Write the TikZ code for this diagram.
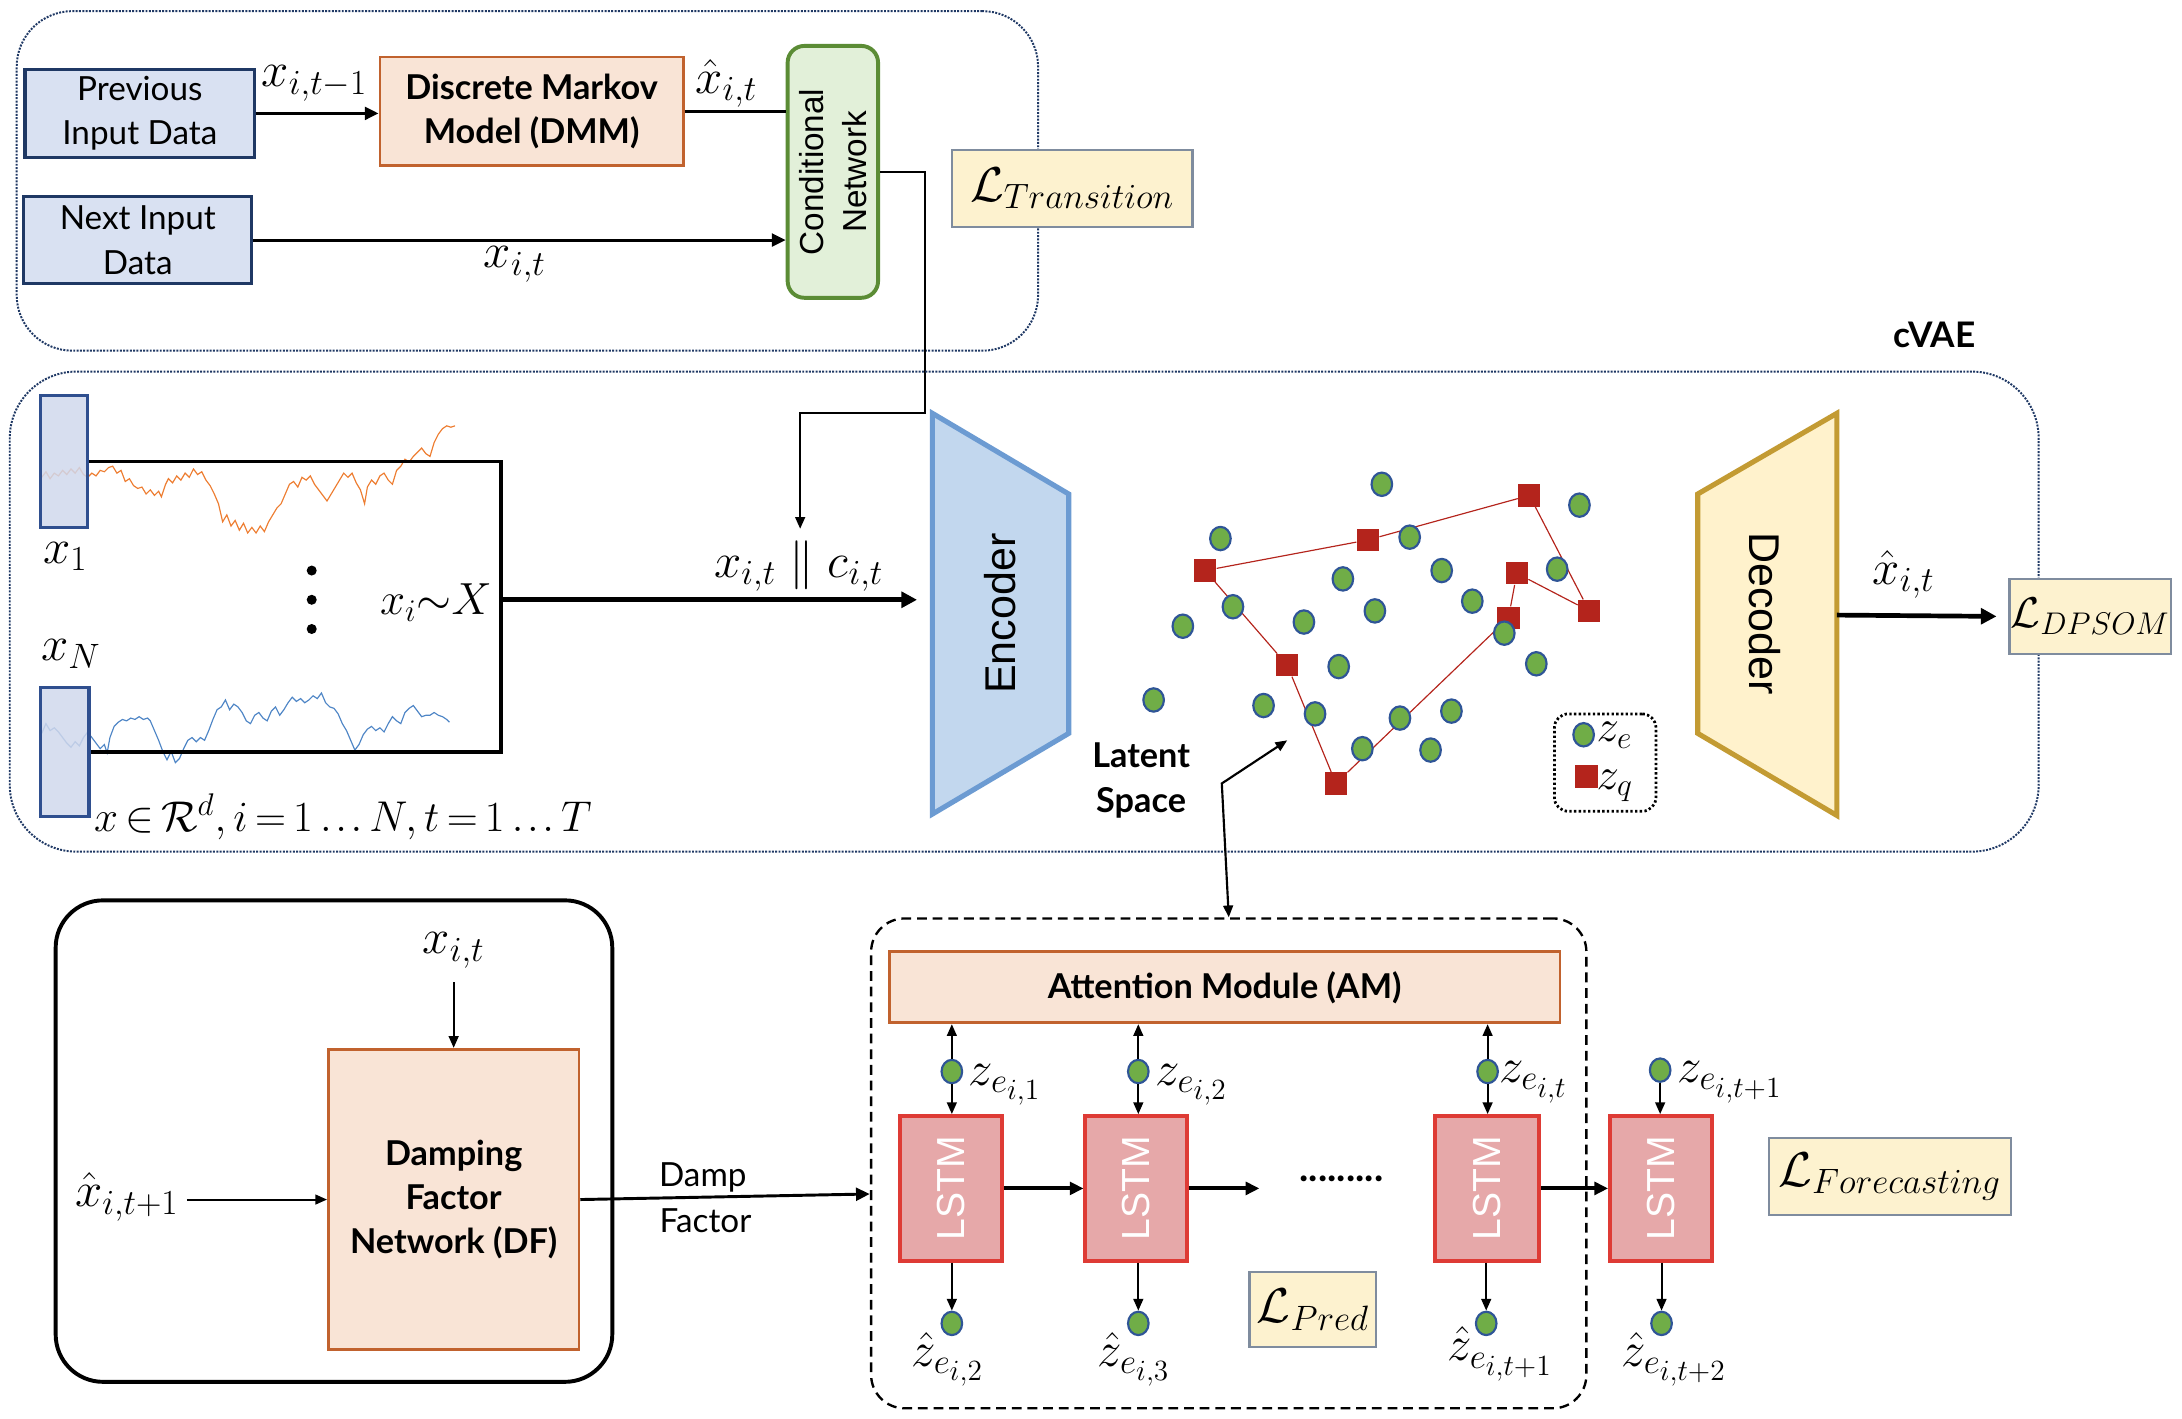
\RequirePackage{fix-cm}
\documentclass[tikz,border=0pt]{standalone}
\usepackage[no-math]{fontspec}
\setmainfont{Lato}
\newfontfamily\arialf{Liberation Sans}
\usetikzlibrary{arrows.meta,fit,shapes.geometric,calc}
\DeclareMathSizes{25}{25}{18}{15}
\DeclareMathSizes{22}{22}{16}{13}
\newcommand\myldots{\mathinner{.\mkern1.5mu.\mkern1.5mu.}}
\definecolor{navy}{HTML}{1F3864}
\definecolor{inblue}{HTML}{D9E1F2}
\definecolor{xrect}{HTML}{D0D8EC}
\definecolor{xrectd}{HTML}{2F4F8F}
\definecolor{peachf}{HTML}{F9E4D6}
\definecolor{peachd}{HTML}{C1622E}
\definecolor{condf}{HTML}{E2F0D9}
\definecolor{condd}{HTML}{5B8C35}
\definecolor{encf}{HTML}{C2D7EE}
\definecolor{encd}{HTML}{6C9BD2}
\definecolor{decf}{HTML}{FFF2CC}
\definecolor{decd}{HTML}{C39B33}
\definecolor{lossf}{HTML}{FDF2CF}
\definecolor{lossd}{HTML}{7F8C9E}
\definecolor{lstmf}{HTML}{E6A8A9}
\definecolor{lstmd}{HTML}{DE3B35}
\definecolor{dotg}{HTML}{70AD47}
\definecolor{dotb}{HTML}{2F5597}
\definecolor{sqred}{HTML}{B4241C}
\definecolor{orser}{HTML}{ED7D31}
\definecolor{blser}{HTML}{4F86C6}
\begin{document}
\begin{tikzpicture}[x=0.025cm,y=-0.025cm,
  sans/.style={font=\fontsize{17}{22.7}\selectfont},
  bsans/.style={font=\fontsize{17.5}{22.7}\selectfont\bfseries},
  ml/.style={font=\fontsize{25}{29}\selectfont, inner sep=1pt},
  mls/.style={font=\fontsize{22}{26}\selectfont, inner sep=1pt},
  txt/.style={align=center, inner sep=0pt},
  inbox/.style={draw=navy, fill=inblue, line width=1.6pt, inner sep=0pt},
  peach/.style={draw=peachd, fill=peachf, line width=1.4pt, inner sep=0pt},
  lossbox/.style={draw=lossd, fill=lossf, line width=1.2pt, inner sep=0pt},
  lstmbox/.style={draw=lstmd, fill=lstmf, line width=2pt, inner sep=0pt},
  lstmtext/.style={rotate=90, text=white, font=\arialf\fontsize{20}{24}\selectfont},
  zdot/.style={ellipse, draw=dotb, fill=dotg, line width=1.1pt, minimum width=0.37cm, minimum height=0.42cm, inner sep=0pt},
  zsq/.style={rectangle, fill=sqred, minimum size=0.4cm, inner sep=0pt},
  dotfr/.style={draw=navy, line width=1pt, dash pattern=on 1pt off 0.7pt, inner sep=0pt},
  thinarr/.style={line width=1pt, -{Triangle[length=6pt,width=5pt]}},
  medarr/.style={line width=1.5pt, -{Triangle[length=7pt,width=6.5pt]}},
  bigarr/.style={line width=2.4pt, -{Triangle[length=8pt,width=8pt]}},
  dblarr/.style={line width=1.1pt, {Triangle[length=6pt,width=5pt]}-{Triangle[length=6pt,width=5pt]}},
]
\useasboundingbox (0,0) rectangle (1568,1019);

% ---------------- top section ----------------
\node[dotfr, rounded corners=1cm, fit={(12,8) (746,252)}] (topbox) {};
\node[inbox, fit={(18,50) (183,113)}] (prev) {};
\node[txt, sans] (prevt) at (prev.center) {Previous\\Input Data};
\node[inbox, fit={(17,141) (181,204)}] (next) {};
\node[txt, sans] (nextt) at (next.center) {Next Input\\Data};
\node[peach, fit={(273,41) (491,119)}] (dmm) {};
\node[txt, bsans] (dmmt) at (dmm.center) {Discrete Markov\\Model (DMM)};
\node[draw=condd, fill=condf, line width=2pt, rounded corners=0.3cm, inner sep=0pt, fit={(566,33) (631,214)}] (cond) {};
\node[rotate=90, align=center, font=\arialf\fontsize{17}{22}\selectfont] (condt) at (cond.center) {Conditional\\Network};
\draw[medarr] (prev.east) -- (prev.east -| dmm.west);
\node[ml] (lxt1) at (226,60) {$x_{i,t-1}$};
\draw[line width=1.5pt] (dmm.east) -- (dmm.east -| cond.west);
\node[ml] (lhx1) at (522,60) {$\hat{x}_{i,t}$};
\draw[medarr] (next.east) -- (next.east -| cond.west);
\node[ml] (lxt2) at (370,190) {$x_{i,t}$};
\node[lossbox, fit={(684,108) (857,163)}] (ltrans) {};
\node[ml] (ltranst) at (ltrans.center) {$\mathcal{L}_{Transition}$};
\coordinate (ctop) at (575,380);
\draw[thinarr] (cond.east) -| (665,297) -| (ctop);

% ---------------- middle section ----------------
\node[dotfr, rounded corners=1.2cm, fit={(7,267) (1465,612)}] (midbox) {};
\node[font=\fontsize{18}{20}\selectfont\bfseries] (cvae) at (1390,241) {cVAE};

\draw[orser, line width=0.6pt] (30,343) -- (33,339) -- (36,344) -- (39,340) -- (42,342) -- (45,338) -- (48,341) -- (51,337) -- (54,340) -- (57,336) -- (60,341) -- (63,343) -- (66,340) -- (69,342) -- (72,338) -- (75,339) -- (78,336) -- (81,335) -- (84,340) -- (87,338) -- (90,346) -- (93,344) -- (96,349) -- (99,351) -- (102,350) -- (105,355) -- (108,352) -- (111,356) -- (114,353) -- (116,357) -- (119,348) -- (121,344) -- (124,347) -- (127,342) -- (130,345) -- (133,340) -- (136,343) -- (139,337) -- (142,341) -- (145,339) -- (148,345) -- (151,349) -- (154,355) -- (157,362) -- (160,375) -- (163,370) -- (166,378) -- (169,374) -- (172,381) -- (175,376) -- (178,383) -- (181,379) -- (184,383) -- (187,378) -- (190,382) -- (193,375) -- (196,370) -- (199,365) -- (202,362) -- (205,355) -- (208,348) -- (211,346) -- (214,350) -- (217,343) -- (220,345) -- (223,342) -- (226,348) -- (229,352) -- (232,356) -- (235,360) -- (238,355) -- (241,350) -- (244,345) -- (247,340) -- (250,343) -- (253,340) -- (256,347) -- (259,352) -- (262,362) -- (264,350) -- (267,345) -- (270,348) -- (273,342) -- (276,340) -- (279,345) -- (282,348) -- (285,338) -- (288,335) -- (291,330) -- (294,332) -- (297,328) -- (300,325) -- (303,322) -- (306,326) -- (309,328) -- (312,318) -- (315,312) -- (318,308) -- (321,306) -- (324,307) -- (327,306);
\draw[blser, line width=0.6pt] (30,527) -- (33,520) -- (36,525) -- (39,523) -- (42,526) -- (45,530) -- (48,534) -- (51,537) -- (54,533) -- (57,536) -- (60,530) -- (63,526) -- (66,530) -- (69,534) -- (72,538) -- (75,535) -- (77,541) -- (79,530) -- (82,522) -- (85,519) -- (88,517) -- (91,518) -- (94,516) -- (97,517) -- (100,515) -- (103,517) -- (106,516) -- (108,518) -- (111,525) -- (114,532) -- (117,540) -- (120,546) -- (123,540) -- (126,548) -- (129,545) -- (132,538) -- (135,532) -- (138,530) -- (141,533) -- (144,530) -- (147,532) -- (150,525) -- (153,517) -- (156,510) -- (159,508) -- (162,503) -- (165,510) -- (168,506) -- (171,508) -- (174,512) -- (177,518) -- (180,520) -- (183,514) -- (186,512) -- (189,516) -- (192,518) -- (195,511) -- (198,508) -- (201,514) -- (204,510) -- (207,505) -- (210,501) -- (213,504) -- (216,502) -- (219,505) -- (222,503) -- (225,500) -- (228,502) -- (231,498) -- (234,505) -- (237,508) -- (240,509) -- (243,513) -- (246,520) -- (249,525) -- (252,532) -- (255,539) -- (258,535) -- (261,528) -- (264,524) -- (267,522) -- (270,525) -- (273,523) -- (276,526) -- (279,520) -- (282,515) -- (285,518) -- (288,520) -- (291,512) -- (294,509) -- (297,507) -- (300,511) -- (303,515) -- (306,514) -- (309,514) -- (312,512) -- (315,514) -- (318,515) -- (321,517) -- (323,519);

\node[draw=xrectd, fill=xrect, fill opacity=0.85, draw opacity=1, line width=1.6pt, inner sep=0pt, fit={(29,284) (63,379)}] (x1r) {};
\node[draw=xrectd, fill=xrect, fill opacity=0.85, draw opacity=1, line width=1.6pt, inner sep=0pt, fit={(29,494) (64,587)}] (xNr) {};
\coordinate (br) at (360,431);
\draw[line width=1.8pt] (x1r.east) -| (br) |- (xNr.east);
\node[ml] (lx1) at (47,400) {$x_1$};
\node[ml] (lxN) at (51,470) {$x_N$};
\fill (224,410) circle (3.6);
\fill (224,431) circle (3.6);
\fill (224,452) circle (3.6);
\node[font=\fontsize{23}{27}\selectfont, inner sep=1pt, anchor=east] (lxi) at (355,433) {$x_i{\sim}X$};
\node[mls, anchor=west] (lform) at (66,587) {$\thickmuskip=3mu \medmuskip=2mu x\in\mathcal{R}^d, i=1\myldots N, t=1\myldots T$};

\coordinate (encin) at (659,431);
\draw[bigarr] (br) -- (encin);
\node[ml] (lxc) at (574,407) {$x_{i,t}\parallel c_{i,t}$};

\draw[draw=encd, fill=encf, line width=2.6pt, line join=miter] (670,297) -- (768,355) -- (768,527) -- (670,585) -- cycle;
\node[rotate=90, font=\arialf\fontsize{22}{26}\selectfont] (enc) at (719,441) {Encoder};
\draw[draw=decd, fill=decf, line width=2.6pt, line join=miter] (1220,355) -- (1320,297) -- (1320,586) -- (1220,527) -- cycle;
\node[rotate=-90, font=\arialf\fontsize{22}{26}\selectfont] (dec) at (1268,441) {Decoder};
\node[lossbox, fit={(1444,416) (1560,470)}] (ldp) {};
\node[mls] (ldpt) at (ldp.center) {$\mathcal{L}_{DPSOM}$};
\coordinate (decout) at (1320,442);
\draw[bigarr, shorten >=6pt] (decout) -- (ldp.west);
\node[ml] (lhx2) at (1368,413) {$\hat{x}_{i,t}$};

% latent space
\foreach \p [count=\k] in {(866,410),(983,388),(1099,356),(1142,439),(1090,412),(1084,444),(960,563),(925,478)}
  \node[zsq] (q\k) at \p {};
\draw[sqred, line width=0.6pt] (q1) -- (q2) -- (q3) -- (q4) -- (q5) -- (q6) -- (q7) -- (q8) -- (q1);
\foreach \p [count=\k] in {(993,348),(877,387),(1013,386),(1135,363),(965,416),(1036,410),(886,436),(937,447),(988,439),(1058,432),(1119,409),(850,450),(962,479),(1081,455),(1104,477),(829,503),(908,507),(945,513),(1006,516),(1043,511),(979,538),(1028,539)}
  \node[zdot] (g\k) at \p {};
\node[draw=black, line width=1.4pt, dash pattern=on 1.2pt off 1.2pt, rounded corners=0.25cm, inner sep=0pt, fit={(1117,513) (1190,583)}] (legend) {};
\node[zdot] (lg1) at (1138,528) {};
\node[font=\fontsize{23}{27}\selectfont, anchor=base west, inner sep=0pt] (lgt1) at (1147,533) {$z_e$};
\node[zsq] (lg2) at (1140,558) {};
\node[font=\fontsize{23}{27}\selectfont, anchor=base west, inner sep=0pt] (lgt2) at (1147,567) {$z_q$};
\node[txt, bsans] (lat) at (820,561) {Latent\\Space};

% ---------------- bottom left ----------------
\node[draw=black, line width=2pt, rounded corners=0.85cm, inner sep=0pt, fit={(40,647) (440,993)}] (blbox) {};
\node[peach, fit={(236,754) (416,970)}] (df) {};
\node[txt, bsans] (dft) at (df.center) {Damping\\Factor\\Network (DF)};
\node[ml] (lxdf) at (326,683) {$x_{i,t}$};
\draw[thinarr] (326,706) -- (df.north);
\node[ml, anchor=east] (lhdf) at (130,860) {$\hat{x}_{i,t+1}$};
\draw[thinarr] ([xshift=3pt]lhdf.east |- df.west) -- (df.west);
\node[sans] (ldamp) at (505,846) {Damp};
\node[sans] (lfact) at (507,877) {Factor};

% ---------------- attention / LSTM ----------------
\node[draw=black, line width=1.2pt, dash pattern=on 5pt off 3pt, rounded corners=0.6cm, inner sep=0pt, fit={(626,660) (1140,1012)}] (att) {};
\coordinate (dfin) at (625,858);
\draw[line width=1.5pt, -{Triangle[length=7pt,width=6.5pt]}] (df.east) -- (dfin);
\coordinate (lstip) at (925,532);
\coordinate (lscorner) at (878,563);
\draw[dblarr] (lstip) -- (lscorner) -- (att.north);
\node[peach, fit={(639,684) (1121,735)}] (am) {};
\node[txt, bsans] (amt) at (am.center) {Attention Module (AM)};

\node[lstmbox, fit={(647,802) (720,906)}] (l1) {};
\node[lstmbox, fit={(780,802) (853,906)}] (l2) {};
\node[lstmbox, fit={(1031,802) (1106,906)}] (l3) {};
\node[lstmbox, fit={(1157,802) (1230,906)}] (l4) {};
\node[lstmtext] (l1t) at (l1.center) {LSTM};
\node[lstmtext] (l2t) at (l2.center) {LSTM};
\node[lstmtext] (l3t) at (l3.center) {LSTM};
\node[lstmtext] (l4t) at (l4.center) {LSTM};
\coordinate (dotsin) at (905,854);
\draw[medarr, line width=2pt] (l1.east) -- (l2.west);
\draw[medarr, line width=2pt] (l2.east) -- (dotsin);
\draw[medarr, line width=2pt] (l3.east) -- (l4.west);
\node[font=\fontsize{20}{24}\selectfont\bfseries] (ldots) at (964,847) {.........};

% z_e inputs
\node[zdot] (c1) at (684,770) {};
\node[zdot] (c2) at (818,770) {};
\node[zdot] (c3) at (1069,770) {};
\node[zdot] (c4) at (1193,769) {};
\draw[thinarr] (c1) -- (c1 |- am.south);
\draw[thinarr] (c1) -- (c1 |- l1.north);
\draw[thinarr] (c2) -- (c2 |- am.south);
\draw[thinarr] (c2) -- (c2 |- l2.north);
\draw[thinarr] (c3) -- (c3 |- am.south);
\draw[thinarr] (c3) -- (c3 |- l3.north);
\draw[thinarr] (c4) -- (c4 |- l4.north);
\node[ml, anchor=base west, inner sep=0pt] (tz1) at (696,780) {$z_{e_{i,1}}$};
\node[ml, anchor=base west, inner sep=0pt] (tz2) at (830,780) {$z_{e_{i,2}}$};
\node[ml, anchor=base west, inner sep=0pt] (tz3) at (1077,778) {$z_{e_{i,t}}$};
\node[ml, anchor=base west, inner sep=0pt] (tz4) at (1205,778) {$z_{e_{i,t+1}}$};

% outputs
\node[zdot] (d1) at (684,951) {};
\node[zdot] (d2) at (818,951) {};
\node[zdot] (d3) at (1068,951) {};
\node[zdot] (d4) at (1194,951) {};
\draw[thinarr] (d1 |- l1.south) -- (d1);
\draw[thinarr] (d2 |- l2.south) -- (d2);
\draw[thinarr] (d3 |- l3.south) -- (d3);
\draw[thinarr] (d4 |- l4.south) -- (d4);
\node[ml] (th1) at (681,977) {$\hat{z}_{e_{i,2}}$};
\node[ml] (th2) at (815,977) {$\hat{z}_{e_{i,3}}$};
\node[ml] (th3) at (1078,973) {$\hat{z}_{e_{i,t+1}}$};
\node[ml] (th4) at (1203,977) {$\hat{z}_{e_{i,t+2}}$};

\node[lossbox, fit={(898,914) (989,968)}] (lpred) {};
\node[ml] (lpredt) at (lpred.center) {$\mathcal{L}_{Pred}$};
\node[lossbox, fit={(1271,818) (1445,873)}] (lfore) {};
\node[ml] (lforet) at (lfore.center) {$\mathcal{L}_{Forecasting}$};
\end{tikzpicture}
\end{document}
